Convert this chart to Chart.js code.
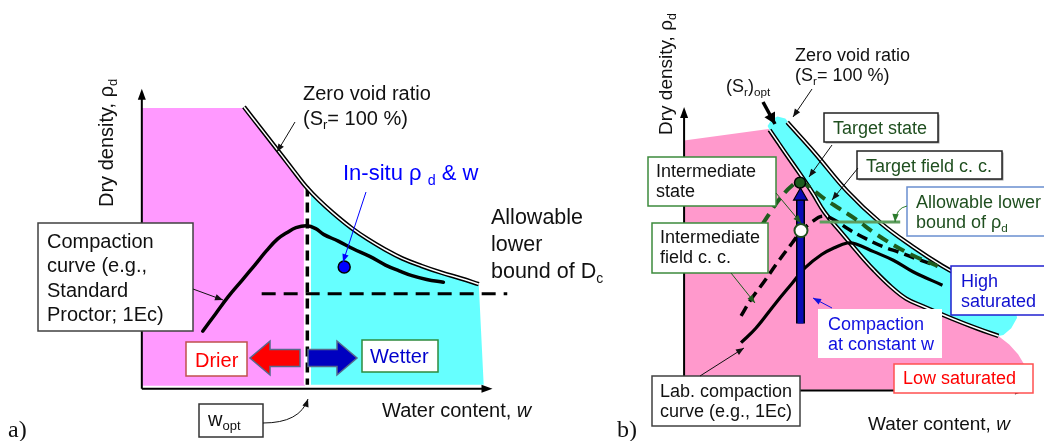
<!DOCTYPE html>
<html><head><meta charset="utf-8">
<script src="https://cdn.jsdelivr.net/npm/chart.js@4.4.1/dist/chart.umd.min.js"></script>
<style>html,body{margin:0;padding:0;background:#fff;}canvas{display:block;}</style>
</head><body>
<canvas id="c" width="1044" height="441"></canvas>
<script>
// ===== Schematic data (units: water content to the right, dry density upward; origin = axes corner) =====
// Panel a
const zvrA = [[104,294],[123,269],[142,244],[157,224],[167,211],[180,197],[195,183],[213,168],[230,156],[248,145],[265,136],[285,128],[305,121],[325,115],[343,109]];
const compactionA = [[62,60],[75,78],[88,96],[102,113],[115,129],[127,144],[138,156],[148,163],[157,168],[168,170],[177,167],[185,161],[200,154],[215,146],[232,138],[248,129],[262,123],[275,118],[290,114],[307,111]];
const drierRegionA = [[0,293],[105,293],[123,269],[142,244],[157,224],[166,212],[166,3],[0,3]];
const wetterRegionA = [[172,206],[180,197],[195,183],[213,168],[230,156],[248,145],[265,136],[285,128],[305,121],[325,115],[343,109],[348,4],[172,4]];
const lowerBoundDcA = [[122,99],[372,99]];
const wOptA = [[168.5,211],[168.5,4]];
const inSituA = [[206,127]];
// Panel b
const zvrB = [[105,280],[133,248],[166,208],[200,175],[233,150],[263,130],[288,116]];
const srOptB = [[87,272],[95,260],[103,248],[118,226],[131,206],[143,186],[160,165],[178,143],[193,126],[211,108],[226,96],[243,88],[273,75],[298,65],[320,57]];
const labCurveB = [[58,50],[73,65],[93,91],[110,112],[123,128],[140,142],[153,149],[166,154],[175,153],[193,145],[213,136],[233,124],[263,110]];
const interFieldB = [[58,78],[68,95],[81,113],[96,135],[110,154],[119,166],[130,176],[141,182],[153,178],[168,168],[186,158],[203,150],[220,144],[238,137],[258,130]];
const targetFieldB = [[80,174],[89,188],[98,201],[110,214],[118,218],[128,212],[143,200],[158,190],[176,178],[193,165],[213,152],[233,141],[258,130]];
const lowSatRegionB = [[0,261],[86,273],[95,260],[103,248],[118,226],[131,206],[143,186],[160,165],[178,143],[193,126],[211,108],[226,96],[243,88],[273,75],[298,65],[320,57],[331,48],[340,38],[347,26],[350,13],[348,1],[0,1]];
const highSatRegionB = [[85,276],[89,283],[95,286],[103,284],[133,248],[166,208],[200,175],[233,150],[263,130],[288,116],[313,106],[328,100],[336,88],[339,76],[333,65],[325,58],[320,57],[298,65],[273,75],[243,88],[226,96],[211,108],[193,126],[178,143],[160,165],[143,186],[131,206],[118,226],[103,248],[95,260],[87,272]];
const allowRhoB = [[138,176],[220,176]];
const compactionPathB = [[118.5,70],[118.5,199]];
const compactionHeadB = [[118.5,203]];
const targetStateB = [[118,217]];
const interStateB = [[119,167]];

const P = a => a.map(([x, y]) => ({x, y}));

function region(data, color, ax) {
  return {data: P(data), xAxisID: 'x' + ax, yAxisID: 'y' + ax, fill: 'shape', backgroundColor: color,
    borderColor: 'transparent', borderWidth: 0, pointRadius: 0, tension: 0, order: 20};
}
function curve(data, color, width, ax, order, extra) {
  return Object.assign({data: P(data), xAxisID: 'x' + ax, yAxisID: 'y' + ax, fill: false, borderColor: color,
    borderWidth: width, pointRadius: 0, tension: 0.4, order: order, borderCapStyle: 'butt'}, extra || {});
}
function dot(data, fillC, borderC, r, bw, ax, style) {
  return {data: P(data), xAxisID: 'x' + ax, yAxisID: 'y' + ax, showLine: false, fill: false,
    pointRadius: r, pointBackgroundColor: fillC, pointBorderColor: borderC, pointBorderWidth: bw,
    pointStyle: style || 'circle', order: 1};
}

const datasets = [
  region(drierRegionA, '#FF99FF', 'a'),
  region(wetterRegionA, '#66FFFF', 'a'),
  region(lowSatRegionB, '#FF99CC', 'b'),
  Object.assign(region(highSatRegionB, '#66FFFF', 'b'), {order: 19}),
  curve(wOptA, '#FFFFFF', 7, 'a', 12, {tension: 0}),
  curve(wOptA, '#000000', 3.5, 'a', 11, {tension: 0, borderDash: [10, 6]}),
  curve(zvrA, '#000000', 4.5, 'a', 10),
  curve(zvrA, '#FFFFFF', 1.5, 'a', 9),
  curve(compactionA, '#000000', 3.5, 'a', 8, {borderCapStyle: 'round'}),
  curve(lowerBoundDcA, '#000000', 3, 'a', 8, {tension: 0, borderDash: [14, 8]}),
  dot(inSituA, '#0000FF', '#000000', 6, 1.5, 'a'),
  curve(zvrB, '#000000', 4.5, 'b', 10),
  curve(zvrB, '#FFFFFF', 1.5, 'b', 9),
  curve(srOptB, '#000000', 4.5, 'b', 10),
  curve(srOptB, '#FFFFFF', 1.5, 'b', 9),
  curve(labCurveB, '#000000', 3.2, 'b', 8),
  curve(interFieldB, '#000000', 3.5, 'b', 7, {borderDash: [11, 6]}),
  curve(targetFieldB, '#1E5C1E', 4, 'b', 6, {borderDash: [12, 7]}),
  curve(allowRhoB, '#5E9E5E', 3, 'b', 6, {tension: 0}),
  curve(compactionPathB, '#000000', 9, 'b', 5, {tension: 0}),
  curve(compactionPathB, '#0A0AB4', 6, 'b', 4, {tension: 0}),
  dot(compactionHeadB, '#0A0AB4', '#000000', 8, 1.2, 'b', 'triangle'),
  dot(targetStateB, '#1E5C1E', '#000000', 5.5, 1.5, 'b'),
  dot(interStateB, '#FFFFFF', '#1E4F1E', 6.5, 2, 'b')
];

// ===== Layout of labels (canvas pixels) =====
const FONT = '"Liberation Sans", Arial, sans-serif';
const SERIF = '"Liberation Serif", "Times New Roman", serif';
const boxes = [
  {x: 38, y: 223, w: 155, h: 108, c: '#404040'},
  {x: 186, y: 342, w: 61, h: 34, c: '#C0504D'},
  {x: 362, y: 340, w: 76, h: 32, c: '#2E8B3E'},
  {x: 199, y: 404, w: 64, h: 33, c: '#333333'},
  {x: 824, y: 113, w: 114, h: 29, c: '#222222', sh: true},
  {x: 857, y: 151, w: 145, h: 28, c: '#222222', sh: true},
  {x: 907, y: 187, w: 140, h: 49, c: '#6A8FD0'},
  {x: 951, y: 266, w: 96, h: 49, c: '#2020D0'},
  {x: 818, y: 309, w: 124, h: 49, c: null},
  {x: 894, y: 364, w: 139, h: 29, c: '#FF5050'},
  {x: 652, y: 376, w: 148, h: 50, c: '#404040'},
  {x: 648, y: 157, w: 128, h: 49, c: '#3C8A3C'},
  {x: 652, y: 223, w: 116, h: 50, c: '#3C8A3C'}
];
const texts = [
  {x: 47, y: 248, s: 20, c: '#111', p: ['Compaction']},
  {x: 47, y: 272, s: 20, c: '#111', p: ['curve (e.g.,']},
  {x: 47, y: 297, s: 20, c: '#111', p: ['Standard']},
  {x: 47, y: 321, s: 20, c: '#111', p: ['Proctor; 1Ec)']},
  {x: 195, y: 367, s: 20, c: '#FF0000', p: ['Drier']},
  {x: 370, y: 363, s: 20, c: '#0000CC', p: ['Wetter']},
  {x: 208, y: 426, s: 20, c: '#111', p: ['w', {t: 'opt', sub: true}]},
  {x: 303, y: 100, s: 20, c: '#111', p: ['Zero void ratio']},
  {x: 303, y: 125, s: 20, c: '#111', p: ['(S', {t: 'r', sub: true}, '= 100 %)']},
  {x: 343, y: 180, s: 22, c: '#0000FF', p: ['In-situ \u03C1 ', {t: 'd', sub: true}, ' & w']},
  {x: 491, y: 224, s: 21.5, c: '#111', p: ['Allowable']},
  {x: 491, y: 251, s: 21.5, c: '#111', p: ['lower']},
  {x: 491, y: 278, s: 21.5, c: '#111', p: ['bound of D', {t: 'c', sub: true}]},
  {x: 382, y: 417, s: 20, c: '#111', p: ['Water content, ', {t: 'w', it: true}]},
  {x: 113, y: 207, s: 20, c: '#111', rot: true, p: ['Dry density, \u03C1', {t: 'd', sub: true}]},
  {x: 8, y: 437, s: 24, c: '#111', f: SERIF, p: ['a)']},
  // panel b
  {x: 795, y: 61, s: 18, c: '#111', p: ['Zero void ratio']},
  {x: 795, y: 81, s: 18, c: '#111', p: ['(S', {t: 'r', sub: true}, '= 100 %)']},
  {x: 726, y: 92, s: 18, c: '#111', p: ['(S', {t: 'r', sub: true}, ')', {t: 'opt', sub: true}]},
  {x: 833, y: 134, s: 18, c: '#1F4F1F', p: ['Target state']},
  {x: 866, y: 172, s: 18, c: '#1F4F1F', p: ['Target field c. c.']},
  {x: 916, y: 208, s: 18, c: '#1F4F1F', p: ['Allowable lower']},
  {x: 916, y: 228, s: 18, c: '#1F4F1F', p: ['bound of \u03C1', {t: 'd', sub: true}]},
  {x: 961, y: 287, s: 18, c: '#1010D0', p: ['High']},
  {x: 961, y: 307, s: 18, c: '#1010D0', p: ['saturated']},
  {x: 828, y: 330, s: 18, c: '#1010E0', p: ['Compaction']},
  {x: 828, y: 350, s: 18, c: '#1010E0', p: ['at constant w']},
  {x: 903, y: 384, s: 18, c: '#FF0000', p: ['Low saturated']},
  {x: 660, y: 397, s: 18, c: '#111', p: ['Lab. compaction']},
  {x: 660, y: 417, s: 18, c: '#111', p: ['curve (e.g., 1Ec)']},
  {x: 656, y: 177, s: 18, c: '#111', p: ['Intermediate']},
  {x: 656, y: 197, s: 18, c: '#111', p: ['state']},
  {x: 660, y: 243, s: 18, c: '#111', p: ['Intermediate']},
  {x: 660, y: 263, s: 18, c: '#111', p: ['field c. c.']},
  {x: 868, y: 430, s: 19, c: '#111', p: ['Water content, ', {t: 'w', it: true}]},
  {x: 672, y: 135, s: 19, c: '#111', rot: true, p: ['Dry density, \u03C1', {t: 'd', sub: true}]},
  {x: 617, y: 437, s: 24, c: '#111', f: SERIF, p: ['b)']}
];
const pointers = [
  {a: [295, 122, 277, 152], c: '#111', w: 1},
  {a: [366, 192, 343, 262], c: '#0000FF', w: 1},
  {a: [193, 289, 223, 300], c: '#111', w: 1},
  {a: [263, 423, 308, 399], q: [300, 423], c: '#111', w: 1},
  {a: [812, 89, 793, 117], c: '#111', w: 1},
  {a: [763, 102, 775, 124], c: '#000', w: 3.5, hl: 11, hw: 6},
  {a: [832, 145, 809, 177], c: '#111', w: 1},
  {a: [858, 168, 832, 200], c: '#111', w: 1},
  {a: [907, 206, 895, 222], q: [896, 208], c: '#2E7D2E', w: 1},
  {a: [776, 193, 801, 223], c: '#1E5C1E', w: 1},
  {a: [731, 273, 755, 303], c: '#1E5C1E', w: 1},
  {a: [700, 376, 744, 348], c: '#111', w: 1},
  {a: [832, 308, 813, 298], c: '#1010E0', w: 1}
];
const blockArrows = [
  {tail: 300, tip: 250, cy: 358, fill: '#FF0000'},
  {tail: 308, tip: 357, cy: 358, fill: '#0000C0'}
];
const axesCfg = [
  {ax: 'a', xEnd: 357, yEnd: 313},
  {ax: 'b', xEnd: 348, yEnd: 296}
];

function rich(ctx, x, y, parts, size, color, fam) {
  let cx = x;
  for (const p of parts) {
    const o = typeof p === 'string' ? {t: p} : p;
    const s = o.sub ? size * 0.65 : size;
    ctx.font = (o.it ? 'italic ' : '') + s + 'px ' + (fam || FONT);
    ctx.fillStyle = color;
    ctx.fillText(o.t, cx, y + (o.sub ? size * 0.22 : 0));
    cx += ctx.measureText(o.t).width;
  }
}
function head(ctx, x2, y2, ang, hl, hw) {
  ctx.beginPath();
  ctx.moveTo(x2, y2);
  ctx.lineTo(x2 - hl * Math.cos(ang) + hw * Math.sin(ang), y2 - hl * Math.sin(ang) - hw * Math.cos(ang));
  ctx.lineTo(x2 - hl * Math.cos(ang) - hw * Math.sin(ang), y2 - hl * Math.sin(ang) + hw * Math.cos(ang));
  ctx.closePath();
  ctx.fill();
}

const sketch = {
  id: 'sketch',
  afterDatasetsDraw(chart) {
    const ctx = chart.ctx;
    ctx.save();
    // axes
    for (const a of axesCfg) {
      const xs = chart.scales['x' + a.ax], ys = chart.scales['y' + a.ax];
      const ox = xs.getPixelForValue(0), oy = ys.getPixelForValue(0);
      const ex = xs.getPixelForValue(a.xEnd), ey = ys.getPixelForValue(a.yEnd);
      ctx.strokeStyle = '#000'; ctx.fillStyle = '#000'; ctx.lineWidth = 2;
      ctx.beginPath(); ctx.moveTo(ox, oy); ctx.lineTo(ex - 8, oy); ctx.moveTo(ox, oy); ctx.lineTo(ox, ey + 8); ctx.stroke();
      head(ctx, ex, oy, 0, 11, 4);
      head(ctx, ox, ey, -Math.PI / 2, 11, 4);
    }
    // block arrows
    for (const b of blockArrows) {
      const d = Math.sign(b.tip - b.tail), hb = b.tip - d * 20, bh = 8.5, hh = 17;
      ctx.beginPath();
      ctx.moveTo(b.tail, b.cy - bh); ctx.lineTo(hb, b.cy - bh); ctx.lineTo(hb, b.cy - hh); ctx.lineTo(b.tip, b.cy);
      ctx.lineTo(hb, b.cy + hh); ctx.lineTo(hb, b.cy + bh); ctx.lineTo(b.tail, b.cy + bh); ctx.closePath();
      ctx.fillStyle = b.fill; ctx.fill();
      ctx.strokeStyle = '#54698C'; ctx.lineWidth = 1.5; ctx.stroke();
    }
    // boxes
    for (const b of boxes) {
      if (b.sh) { ctx.fillStyle = '#9A9A9A'; ctx.fillRect(b.x + 1.5, b.y + 1.5, b.w, b.h); }
      ctx.fillStyle = '#FFFFFF'; ctx.fillRect(b.x, b.y, b.w, b.h);
      if (b.c) { ctx.strokeStyle = b.c; ctx.lineWidth = 1.5; ctx.strokeRect(b.x, b.y, b.w, b.h); }
    }
    // pointers
    for (const p of pointers) {
      const [x1, y1, x2, y2] = p.a;
      ctx.strokeStyle = p.c; ctx.fillStyle = p.c; ctx.lineWidth = p.w;
      ctx.beginPath(); ctx.moveTo(x1, y1);
      let fx = x1, fy = y1;
      if (p.q) { ctx.quadraticCurveTo(p.q[0], p.q[1], x2, y2); fx = p.q[0]; fy = p.q[1]; }
      else ctx.lineTo(x2, y2);
      ctx.stroke();
      head(ctx, x2, y2, Math.atan2(y2 - fy, x2 - fx), p.hl || 8, p.hw || 3.2);
    }
    // texts
    ctx.textBaseline = 'alphabetic'; ctx.textAlign = 'left';
    for (const t of texts) {
      if (t.rot) {
        ctx.save(); ctx.translate(t.x, t.y); ctx.rotate(-Math.PI / 2);
        rich(ctx, 0, 0, t.p, t.s, t.c, t.f); ctx.restore();
      } else rich(ctx, t.x, t.y, t.p, t.s, t.c, t.f);
    }
    ctx.restore();
  }
};

new Chart(document.getElementById('c'), {
  type: 'line',
  data: {datasets},
  options: {
    responsive: false, animation: false, devicePixelRatio: 1, events: [],
    layout: {padding: 0},
    plugins: {legend: {display: false}, tooltip: {enabled: false}},
    scales: {
      xa: {type: 'linear', display: false, min: -135, max: 909},
      ya: {type: 'linear', display: false, min: -45, max: 396},
      xb: {type: 'linear', display: false, min: -687, max: 357},
      yb: {type: 'linear', display: false, min: -43, max: 398}
    }
  },
  plugins: [sketch]
});
</script>
</body></html>
